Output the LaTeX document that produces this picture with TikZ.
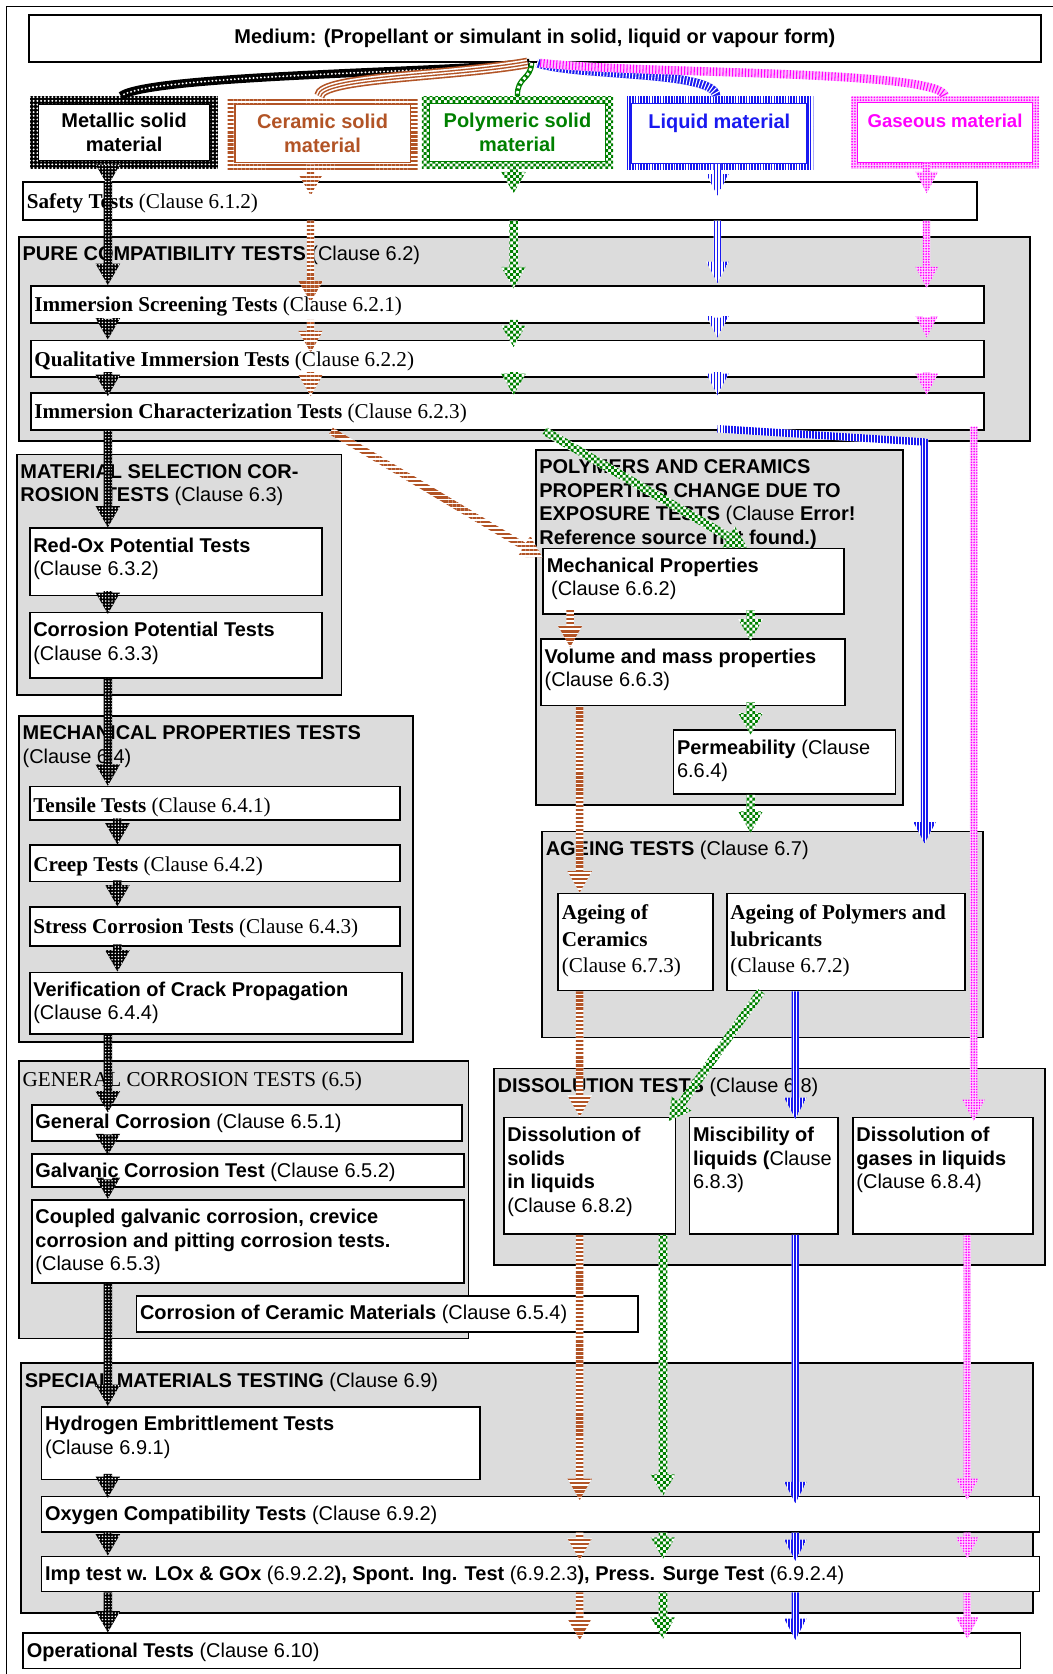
\documentclass[tikz,border=0pt]{standalone}
\usepackage{fontspec}
\setmainfont{Liberation Sans}
\newfontfamily\serifface{Liberation Serif}
\usetikzlibrary{calc,patterns.meta}

\definecolor{brn}{RGB}{178,84,38}
\definecolor{grn}{RGB}{0,128,0}
\definecolor{blu}{RGB}{25,25,240}
\definecolor{mag}{RGB}{255,0,255}
\definecolor{boxgray}{RGB}{220,220,220}

\newcommand{\sansbody}{\fontsize{18.7}{22}\selectfont}
\newcommand{\seriftext}{\serifface\fontsize{19.8}{25}\selectfont}

\pgfdeclarepatternformonly{finecheck}{\pgfqpoint{-0.1pt}{-0.1pt}}{\pgfqpoint{5.5pt}{5.5pt}}{\pgfqpoint{5.4pt}{5.4pt}}{%
  \pgfpathrectangle{\pgfpointorigin}{\pgfqpoint{2.7pt}{2.7pt}}%
  \pgfpathrectangle{\pgfqpoint{2.7pt}{2.7pt}}{\pgfqpoint{2.7pt}{2.7pt}}%
  \pgfusepath{fill}}

\begin{document}
\begin{tikzpicture}[x=1pt, y=-1pt, font=\sansbody,
  wbox/.style={draw, line width=1.6pt, fill=white, anchor=north west, inner sep=0pt},
  greybox/.style={wbox, fill=boxgray},
  txt/.style={anchor=north west, align=left, inner xsep=4pt, inner ysep=9.5pt},
  stxt/.style={txt, font=\seriftext, inner ysep=11pt},
  inframe/.style 2 args={path picture={\filldraw[fill=white, draw=#1, line width=1pt]
      ([shift={(#2,-#2)}]path picture bounding box.north west) rectangle
      ([shift={(-#2,#2)}]path picture bounding box.south east);}},
  matbox/.style={anchor=north west, minimum height=68, inner sep=0pt, align=center, font=\sansbody\bfseries},
  metalbox/.style={matbox, preaction={fill=black}, pattern={Dots[radius=1pt, distance=3.5pt]}, pattern color=white, inframe={black}{8pt}},
  ceramicbox/.style={matbox, text=brn, preaction={fill=white}, pattern={Lines[distance=3.8pt, line width=2.2pt]}, pattern color=brn, inframe={brn}{7pt}},
  polybox/.style={matbox, text=grn, preaction={fill=white}, pattern=finecheck, pattern color=grn, inframe={grn}{7pt}},
  liquidbox/.style={matbox, text=blu, preaction={fill=white}, pattern={Lines[angle=90, distance=2.6pt, line width=1.5pt]}, pattern color=blu, inframe={blu}{6pt}},
  gasbox/.style={matbox, text=mag, preaction={fill=mag!20}, pattern={Dots[radius=0.9pt, distance=2.6pt]}, pattern color=mag, inframe={mag}{6pt}},
  shaft/.initial=3.5pt, headw/.initial=11pt, headl/.initial=20pt,
  fat/.style={to path={
    ($(\tikztostart)!\pgfkeysvalueof{/tikz/shaft}!90:(\tikztotarget)$) --
    ($(\tikztotarget)!\pgfkeysvalueof{/tikz/headl}!(\tikztostart)!\pgfkeysvalueof{/tikz/shaft}!90:(\tikztotarget)$) --
    ($(\tikztotarget)!\pgfkeysvalueof{/tikz/headl}!(\tikztostart)!\pgfkeysvalueof{/tikz/headw}!90:(\tikztotarget)$) --
    (\tikztotarget) --
    ($(\tikztotarget)!\pgfkeysvalueof{/tikz/headl}!(\tikztostart)!\pgfkeysvalueof{/tikz/headw}!-90:(\tikztotarget)$) --
    ($(\tikztotarget)!\pgfkeysvalueof{/tikz/headl}!(\tikztostart)!\pgfkeysvalueof{/tikz/shaft}!-90:(\tikztotarget)$) --
    ($(\tikztostart)!\pgfkeysvalueof{/tikz/shaft}!-90:(\tikztotarget)$) -- cycle}},
  band/.style={to path={
    ($(\tikztostart)!\pgfkeysvalueof{/tikz/shaft}!90:(\tikztotarget)$) --
    ($(\tikztotarget)!\pgfkeysvalueof{/tikz/shaft}!-90:(\tikztostart)$) --
    ($(\tikztotarget)!\pgfkeysvalueof{/tikz/shaft}!90:(\tikztostart)$) --
    ($(\tikztostart)!\pgfkeysvalueof{/tikz/shaft}!-90:(\tikztotarget)$) -- cycle}},
  metalflow/.style={preaction={fill=black}, pattern={Dots[radius=0.8pt, distance=3pt]}, pattern color=white, shaft=4pt, headw=11.5pt},
  ceramflow/.style={preaction={fill=white}, pattern={Lines[distance=3.8pt, line width=2.2pt]}, pattern color=brn, headw=11.5pt},
  polyflow/.style={preaction={fill=white}, pattern=finecheck, pattern color=grn, shaft=4pt, headw=11.5pt},
  liquidflow/.style={preaction={fill=white}, pattern={Lines[angle=90, distance=2.8pt, line width=1.7pt]}, pattern color=blu, shaft=3.5pt, headw=10.5pt},
  gasflow/.style={preaction={fill=mag!18}, pattern={Dots[radius=0.9pt, distance=2.5pt]}, pattern color=mag, shaft=3.5pt, headw=10.5pt},
  metalcurve/.style={draw=black, line width=8pt, postaction={draw=white, line width=2pt, dash pattern=on 0pt off 3.5pt, line cap=round}},
  ceramcurve/.style={draw=brn, line width=10pt, postaction={draw=white, line width=7pt}, postaction={draw=brn, line width=4pt}, postaction={draw=white, line width=1.3pt}},
  polycurve/.style={draw=grn, line width=5pt, postaction={draw=white, line width=2.5pt, dash pattern=on 2.5pt off 2.5pt}},
  liquidcurve/.style={draw=blu, line width=8pt, postaction={draw=white, line width=8pt, dash pattern=on 1pt off 2pt}},
  gascurve/.style={draw=mag!25, line width=8pt, postaction={draw=mag, line width=8pt, dash pattern=on 1pt off 2pt}}]
\useasboundingbox (0,0) rectangle (986,1568);
\draw[line width=0.8pt] (6,1590) -- (6,6) -- (1000,6);

% source and materials
\node[wbox, line width=2pt, minimum width=948, minimum height=44] (medium) at (26,13) {\bfseries Medium: (Propellant or simulant in solid, liquid or vapour form)};
\node[metalbox, minimum width=176] (metal) at (28,90) {Metallic solid\\material};
\node[ceramicbox, minimum width=178] (ceram) at (212,90) {Ceramic solid\\material};
\node[polybox, minimum width=179] (poly) at (395,90) {Polymeric solid\\material};
\node[liquidbox, minimum width=176] (liquid) at (585,90) {Liquid material\\\mbox{}};
\node[gasbox, minimum width=176] (gas) at (797,90) {\fontsize{17.4}{22}\selectfont Gaseous material\\\mbox{}};

\node[wbox, minimum width=893, minimum height=35, label={[stxt]north west:{\textbf{Safety Tests} (Clause 6.1.2)}}] (safety) at (21,170) {};

% pure compatibility
\node[greybox, minimum width=947, minimum height=191, label={[txt]north west:{\textbf{PURE COMPATIBILITY TESTS} (Clause 6.2)}}] (pure) at (17,221) {};
\node[wbox, minimum width=893, minimum height=35, label={[stxt]north west:{\textbf{Immersion Screening Tests} (Clause 6.2.1)}}] (screen) at (28,267) {};
\node[wbox, minimum width=893, minimum height=34, label={[stxt]north west:{\textbf{Qualitative Immersion Tests} (Clause 6.2.2)}}] (qual) at (28,318) {};
\node[wbox, minimum width=893, minimum height=35, label={[stxt]north west:{\textbf{Immersion Characterization Tests} (Clause 6.2.3)}}] (charz) at (28,367) {};

% material selection corrosion
\node[greybox, minimum width=304, minimum height=225, label={[txt]north west:{\textbf{MATERIAL SELECTION COR-}\\\textbf{ROSION TESTS} (Clause 6.3)}}] (matsel) at (15,425) {};
\node[wbox, minimum width=274, minimum height=63, label={[txt]north west:{\textbf{Red-Ox Potential Tests}\\(Clause 6.3.2)}}] (redox) at (27,494) {};
\node[wbox, minimum width=274, minimum height=61, label={[txt]north west:{\textbf{Corrosion Potential Tests}\\(Clause 6.3.3)}}] (corpot) at (27,573) {};

% polymers and ceramics
\node[greybox, minimum width=344, minimum height=332, label={[txt]north west:{\textbf{POLYMERS AND CERAMICS}\\\textbf{PROPERTIES CHANGE DUE TO}\\\textbf{EXPOSURE TESTS} (Clause \textbf{Error!}\\\textbf{Reference source not found.)}}}] (polycer) at (501,421) {};
\node[wbox, minimum width=282, minimum height=61, label={[txt]north west:{\textbf{Mechanical Properties}\\\hspace*{4pt}(Clause 6.6.2)}}] (mechp) at (508,513) {};
\node[wbox, minimum width=285, minimum height=62, label={[txt]north west:{\textbf{Volume and mass properties}\\(Clause 6.6.3)}}] (volume) at (506,598) {};
\node[wbox, minimum width=208, minimum height=60, label={[txt]north west:{\textbf{Permeability} (Clause\\6.6.4)}}] (perm) at (630,683) {};

% mechanical properties
\node[greybox, minimum width=369, minimum height=305, label={[txt]north west:{\textbf{MECHANICAL PROPERTIES TESTS}\\(Clause 6.4)}}] (mechtests) at (17,670) {};
\node[wbox, minimum width=347, minimum height=31, label={[stxt]north west:{\textbf{Tensile Tests} (Clause 6.4.1)}}] (tensile) at (27,736) {};
\node[wbox, minimum width=347, minimum height=34, label={[stxt]north west:{\textbf{Creep Tests} (Clause 6.4.2)}}] (creep) at (27,791) {};
\node[wbox, minimum width=347, minimum height=36, label={[stxt]north west:{\textbf{Stress Corrosion Tests} (Clause 6.4.3)}}] (stress) at (27,849) {};
\node[wbox, minimum width=349, minimum height=58, label={[txt]north west:{\textbf{Verification of Crack Propagation}\\(Clause 6.4.4)}}] (verif) at (27,910) {};

% ageing
\node[greybox, minimum width=413, minimum height=193, label={[txt]north west:{\textbf{AGEING TESTS} (Clause 6.7)}}] (ageing) at (507,778) {};
\node[wbox, minimum width=145, minimum height=91, label={[stxt]north west:{\textbf{Ageing of}\\\textbf{Ceramics}\\(Clause 6.7.3)}}] (agecer) at (522,836) {};
\node[wbox, minimum width=223, minimum height=91, label={[stxt]north west:{\textbf{Ageing of Polymers and}\\\textbf{lubricants}\\(Clause 6.7.2)}}] (agepoly) at (680,836) {};

% general corrosion
\node[greybox, minimum width=421, minimum height=260, label={[stxt]north west:{GENERAL CORROSION TESTS (6.5)}}] (gencorr) at (17,993) {};
\node[wbox, minimum width=403, minimum height=34, label={[txt]north west:{\textbf{General Corrosion} (Clause 6.5.1)}}] (gencorrbox) at (29,1034) {};
\node[wbox, minimum width=405, minimum height=31, label={[txt]north west:{\textbf{Galvanic Corrosion Test} (Clause 6.5.2)}}] (galv) at (29,1080) {};
\node[wbox, minimum width=405, minimum height=78, label={[txt]north west:{\textbf{Coupled galvanic corrosion, crevice}\\\textbf{corrosion and pitting corrosion tests.}\\(Clause 6.5.3)}}] (coupled) at (29,1123) {};
\node[wbox, minimum width=470, minimum height=34, label={[txt]north west:{\textbf{Corrosion of Ceramic Materials} (Clause 6.5.4)}}] (cercorr) at (127,1213) {};

% dissolution
\node[greybox, minimum width=516, minimum height=184, label={[txt]north west:{\textbf{DISSOLUTION TESTS} (Clause 6.8)}}] (dissolution) at (462,1000) {};
\node[wbox, minimum width=161, minimum height=109, label={[txt]north west:{\textbf{Dissolution of}\\\textbf{solids}\\\textbf{in liquids}\\(Clause 6.8.2)}}] (dissol) at (471,1046) {};
\node[wbox, minimum width=139, minimum height=109, label={[txt]north west:{\textbf{Miscibility of}\\\textbf{liquids (}Clause\\6.8.3)}}] (miscib) at (645,1046) {};
\node[wbox, minimum width=169, minimum height=109, label={[txt]north west:{\textbf{Dissolution of}\\\textbf{gases in liquids}\\(Clause 6.8.4)}}] (dissgas) at (798,1046) {};

% special materials
\node[greybox, minimum width=948, minimum height=234, label={[txt]north west:{\textbf{SPECIAL MATERIALS TESTING} (Clause 6.9)}}] (special) at (19,1276) {};
\node[wbox, minimum width=411, minimum height=68, label={[txt]north west:{\textbf{Hydrogen Embrittlement Tests}\\(Clause 6.9.1)}}] (hydro) at (38,1317) {};
\node[wbox, minimum width=935, minimum height=33, label={[txt]north west:{\textbf{Oxygen Compatibility Tests} (Clause 6.9.2)}}] (oxygen) at (38,1401) {};
\node[wbox, minimum width=935, minimum height=33, label={[txt]north west:{\textbf{Imp test w. LOx \& GOx} (6.9.2.2\textbf{), Spont. Ing. Test} (6.9.2.3\textbf{), Press. Surge Test} (6.9.2.4)}}] (imp) at (38,1457) {};
\node[wbox, minimum width=934, minimum height=33, label={[txt]north west:{\textbf{Operational Tests} (Clause 6.10)}}] (oper) at (21,1529) {};

% lanes
\coordinate (mL) at (101,0);
\coordinate (mL2) at (110,0);
\coordinate (cL) at (291,0);
\coordinate (cL2) at (543,0);
\coordinate (cL3) at (534,0);
\coordinate (pL) at (481,0);
\coordinate (pL2) at (703,0);
\coordinate (pL3) at (621,0);
\coordinate (lL) at (672,0);
\coordinate (lL2) at (745,0);
\coordinate (gL) at (868,0);
\coordinate (gL2) at (906,0);
\coordinate (gL3) at (912,0);
\coordinate (lbend) at (866,414);

% splits from the medium
\draw[metalcurve] ([xshift=-5]medium.south) .. controls (420,68) and (140,70) .. ([xshift=-3]metal.north);
\draw[ceramcurve] ([xshift=-7]medium.south) .. controls (420,72) and (300,72) .. ([xshift=-3]ceram.north);
\draw[polycurve] ([xshift=-3]medium.south) .. controls (497,75) and (484,72) .. (poly.north);
\draw[liquidcurve] ([xshift=2]medium.south) .. controls (540,72) and (670,66) .. ([xshift=-3]liquid.north);
\draw[gascurve] ([xshift=5]medium.south) .. controls (600,70) and (880,65) .. (gas.north);

% metallic
\path[metalflow] ([yshift=4]metal.south -| mL) to[fat] ([yshift=-4]safety.north -| mL)
  (safety.north -| mL) to[fat] (screen.north -| mL)
  ([yshift=5]screen.south -| mL) to[fat] (qual.north -| mL)
  ([yshift=5]qual.south -| mL) to[fat] ([yshift=-4]charz.north -| mL)
  (charz.south -| mL) to[fat] (redox.north -| mL)
  ([yshift=5]redox.south -| mL) to[fat] ([yshift=-2]corpot.north -| mL)
  (corpot.south -| mL) to[fat] (tensile.north -| mL)
  ([yshift=2]tensile.south -| mL2) to[fat] (creep.north -| mL2)
  ([yshift=2]creep.south -| mL2) to[fat] (stress.north -| mL2)
  ([yshift=2]stress.south -| mL2) to[fat] (verif.north -| mL2)
  (verif.south -| mL) to[fat] ([yshift=-8]gencorrbox.north -| mL)
  ([yshift=7]gencorrbox.south -| mL) to[fat] ([yshift=-2]galv.north -| mL)
  ([yshift=8]galv.south -| mL) to[fat] (coupled.north -| mL)
  (coupled.south -| mL) to[fat] (hydro.north -| mL)
  ([yshift=6]hydro.south -| mL) to[fat] ([yshift=-2]oxygen.north -| mL)
  (oxygen.south -| mL) to[fat] (imp.north -| mL)
  (imp.south -| mL) to[fat] (oper.north -| mL);

% ceramic
\path[ceramflow] ([yshift=6]ceram.south -| cL) to[fat] ([yshift=-13]safety.north -| cL)
  (safety.south -| cL) to[fat] ([yshift=-16]screen.north -| cL)
  ([yshift=4]screen.south -| cL) to[fat] ([yshift=-12]qual.north -| cL)
  ([yshift=5]qual.south -| cL) to[fat] ([yshift=-4]charz.north -| cL)
  ([xshift=282]charz.south west) to[fat] ([yshift=-9]mechp.north west)
  ([yshift=4]mechp.south -| cL3) to[fat] ([yshift=-8]volume.north -| cL3)
  (volume.south -| cL2) to[fat] (agecer.north -| cL2)
  (agecer.south -| cL2) to[fat] (dissol.north -| cL2)
  (dissol.south -| cL2) to[fat] ([yshift=-4]oxygen.north -| cL2)
  (oxygen.south -| cL2) to[fat] ([yshift=-4]imp.north -| cL2)
  (imp.south -| cL2) to[fat] ([yshift=-7]oper.north -| cL2);

% polymeric
\path[polyflow] ([yshift=6]poly.south -| pL) to[fat] ([yshift=-11]safety.north -| pL)
  (safety.south -| pL) to[fat] ([yshift=-3]screen.north -| pL)
  ([yshift=4]screen.south -| pL) to[fat] ([yshift=-7]qual.north -| pL)
  ([yshift=5]qual.south -| pL) to[fat] ([yshift=-3]charz.north -| pL)
  ([xshift=482]charz.south west) to[fat] ([xshift=192]mechp.north west)
  ([yshift=4]mechp.south -| pL2) to[fat] ([yshift=-2]volume.north -| pL2)
  ([yshift=4]volume.south -| pL2) to[fat] ([yshift=-5]perm.north -| pL2)
  (perm.south -| pL2) to[fat] ([yshift=-2]ageing.north -| pL2)
  ([xshift=33]agepoly.south west) to[fat] ([xshift=-7,yshift=-4]dissol.north east)
  (dissol.south -| pL3) to[fat] (oxygen.north -| pL3)
  (oxygen.south -| pL3) to[fat] ([yshift=-3]imp.north -| pL3)
  (imp.south -| pL3) to[fat] ([yshift=-6]oper.north -| pL3);

% liquid
\path[liquidflow] ([yshift=6]liquid.south -| lL) to[fat] ([yshift=-13]safety.north -| lL)
  (safety.south -| lL) to[fat] ([yshift=2]screen.north -| lL)
  ([yshift=6]screen.south -| lL) to[fat] ([yshift=2]qual.north -| lL)
  ([yshift=5]qual.south -| lL) to[fat] ([yshift=-3]charz.north -| lL)
  ([yshift=2]charz.south -| lL) to[band] (lbend)
  ([yshift=3]lbend) to[fat] ([yshift=-12]ageing.north -| lbend)
  (agepoly.south -| lL2) to[fat] ([yshift=-2]miscib.north -| lL2)
  (miscib.south -| lL2) to[fat] ([yshift=-7]oxygen.north -| lL2)
  (oxygen.south -| lL2) to[fat] ([yshift=-5]imp.north -| lL2)
  (imp.south -| lL2) to[fat] ([yshift=-7]oper.north -| lL2);

% gaseous
\path[gasflow] ([yshift=6]gas.south -| gL) to[fat] ([yshift=-11]safety.north -| gL)
  (safety.south -| gL) to[fat] ([yshift=-3]screen.north -| gL)
  ([yshift=6]screen.south -| gL) to[fat] ([yshift=2]qual.north -| gL)
  ([yshift=5]qual.south -| gL) to[fat] ([yshift=-3]charz.north -| gL)
  ([yshift=4]charz.south -| gL3) to[fat] ([yshift=-4]dissgas.north -| gL3)
  (dissgas.south -| gL2) to[fat] ([yshift=-4]oxygen.north -| gL2)
  (oxygen.south -| gL2) to[fat] ([yshift=-3]imp.north -| gL2)
  (imp.south -| gL2) to[fat] ([yshift=-6]oper.north -| gL2);
\end{tikzpicture}
\end{document}
